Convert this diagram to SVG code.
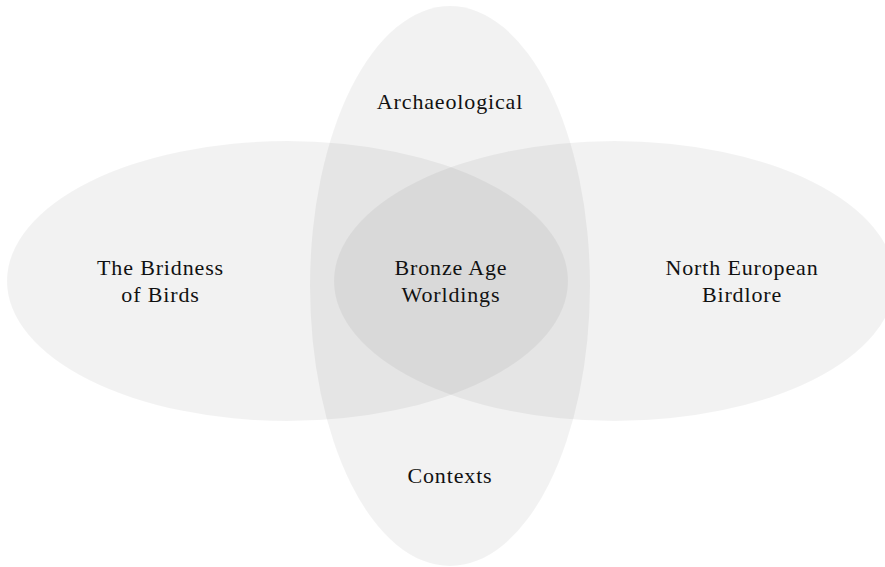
<svg xmlns="http://www.w3.org/2000/svg" width="885" height="567" viewBox="0 0 885 567">
  <style>
    .set { fill: #000000; fill-opacity: 0.052; stroke: none; }
    .lbl { font-family: "Liberation Serif", "DejaVu Serif", serif; font-size: 22px; fill: #111111; text-anchor: middle; letter-spacing: 0.85px; }
  </style>
  <rect x="0" y="0" width="885" height="567" fill="#ffffff"/>
  <g id="bridness">
    <ellipse class="set" cx="287.5" cy="281" rx="280.5" ry="140"/>
    <text class="lbl" x="160.5" y="275">The Bridness</text>
    <text class="lbl" x="160.5" y="302">of Birds</text>
  </g>
  <g id="birdlore">
    <ellipse class="set" cx="614.5" cy="281" rx="280.5" ry="140"/>
    <text class="lbl" x="742" y="275">North European</text>
    <text class="lbl" x="742" y="302">Birdlore</text>
  </g>
  <g id="archaeological">
    <ellipse class="set" cx="450" cy="286" rx="140" ry="280"/>
    <text class="lbl" x="450" y="109">Archaeological</text>
    <text class="lbl" x="450" y="483">Contexts</text>
  </g>
  <g id="bronze-age">
    <text class="lbl" x="451" y="275">Bronze Age</text>
    <text class="lbl" x="451" y="302">Worldings</text>
  </g>
  <g id="connectors"/>
</svg>
